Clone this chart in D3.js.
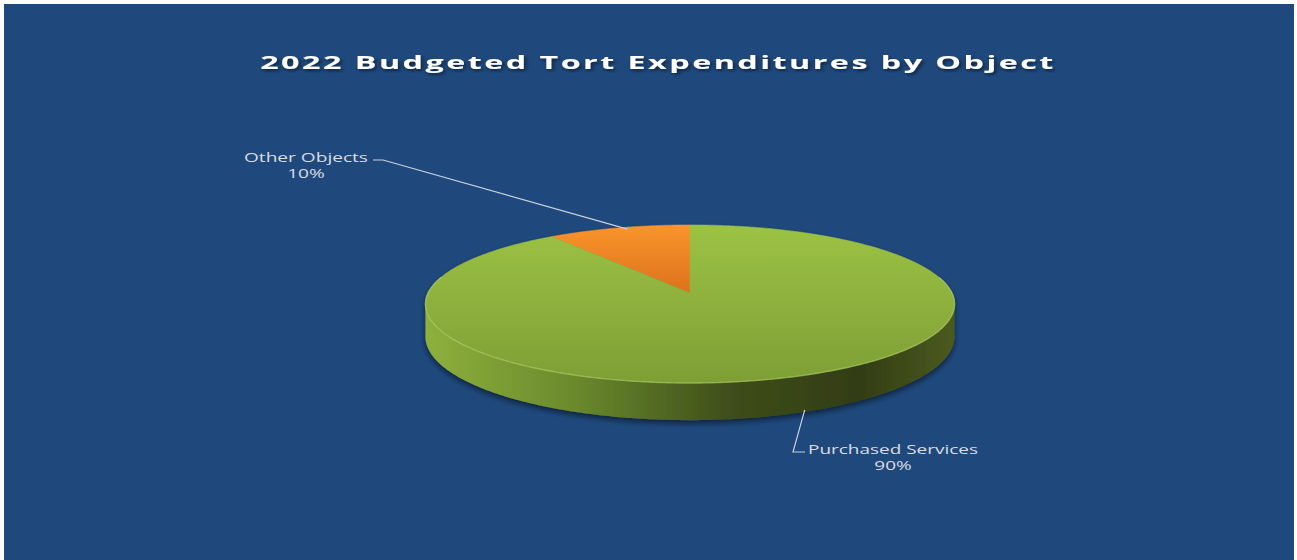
<!DOCTYPE html>
<html>
<head>
<meta charset="utf-8">
<script src="https://cdn.jsdelivr.net/npm/d3@7"></script>
<style>
  html, body { margin: 0; padding: 0; background: #ffffff; }
  svg { display: block; }
</style>
</head>
<body>
<svg id="chart" width="1297" height="560"></svg>
<script>
// Budget shares by object
const categories = ["Other Objects", "Purchased Services"];
const values = [10, 90];
const percentLabels = ["10%", "90%"];
const title = "2022 Budgeted Tort Expenditures by Object";

const W = 1297, H = 560;
const svg = d3.select("#chart");
const defs = svg.append("defs");

// Panel background
svg.append("rect").attr("x", 4).attr("y", 4).attr("width", 1290).attr("height", H - 4)
  .attr("fill", "#1f497d");

// Tilted-disc projection (viewer looks down at the pie with slight perspective)
const cx = 690, cy = 293, A = 262, B = 77.5, k = 0.139, depth = 32;
function project(theta, drop) {
  const u = Math.sin(theta), v = -Math.cos(theta);
  const w = 1 - k * v;
  return [cx + A * u / w, cy + B * v / w + (drop ? depth / w : 0)];
}
function rimPoints(a0, a1, drop) {
  const n = Math.max(2, Math.ceil(Math.abs(a1 - a0) / 0.01));
  return d3.range(n + 1).map(i => project(a0 + (a1 - a0) * i / n, drop));
}

const pie = d3.pie().sort(null).startAngle(-0.2 * Math.PI).endAngle(1.8 * Math.PI);
const arcs = pie(values);

// Gradients
const gTop = defs.append("linearGradient").attr("id", "gTop")
  .attr("gradientUnits", "userSpaceOnUse").attr("x1", 0).attr("y1", 225).attr("x2", 0).attr("y2", 385);
gTop.append("stop").attr("offset", "0%").attr("stop-color", "#9cc244");
gTop.append("stop").attr("offset", "100%").attr("stop-color", "#7d9e35");

const oTop = defs.append("linearGradient").attr("id", "oTop")
  .attr("gradientUnits", "userSpaceOnUse").attr("x1", 0).attr("y1", 225).attr("x2", 0).attr("y2", 295);
oTop.append("stop").attr("offset", "0%").attr("stop-color", "#f9952c");
oTop.append("stop").attr("offset", "100%").attr("stop-color", "#dd701c");

const side = defs.append("linearGradient").attr("id", "gSide")
  .attr("gradientUnits", "userSpaceOnUse").attr("x1", 425).attr("y1", 0).attr("x2", 955).attr("y2", 0);
side.append("stop").attr("offset", "0%").attr("stop-color", "#8eb03c");
side.append("stop").attr("offset", "28%").attr("stop-color", "#6a8a2c");
side.append("stop").attr("offset", "58%").attr("stop-color", "#3e4d1a");
side.append("stop").attr("offset", "82%").attr("stop-color", "#323d14");
side.append("stop").attr("offset", "100%").attr("stop-color", "#4b5a1e");

const shadow = defs.append("filter").attr("id", "pieShadow")
  .attr("x", "-10%").attr("y", "-10%").attr("width", "120%").attr("height", "130%");
shadow.append("feGaussianBlur").attr("in", "SourceAlpha").attr("stdDeviation", 3);
shadow.append("feOffset").attr("dx", 0).attr("dy", 3).attr("result", "ob");
shadow.append("feComponentTransfer").append("feFuncA").attr("type", "linear").attr("slope", 0.55);
const sm = shadow.append("feMerge");
sm.append("feMergeNode");
sm.append("feMergeNode").attr("in", "SourceGraphic");

const tshadow = defs.append("filter").attr("id", "titleShadow")
  .attr("x", "-5%").attr("y", "-30%").attr("width", "110%").attr("height", "160%");
tshadow.append("feDropShadow").attr("dx", 1).attr("dy", 2).attr("stdDeviation", 1.5)
  .attr("flood-color", "#000").attr("flood-opacity", 0.55);

const line = d3.line();
const pieG = svg.append("g").attr("filter", "url(#pieShadow)");

// Front wall of the disc (visible between the left and right silhouette points)
const sil = Math.acos(-k);
const wallTop = rimPoints(sil, 2 * Math.PI - sil, false);
const wallBottom = rimPoints(2 * Math.PI - sil, sil, true);
pieG.append("path").attr("d", line(wallTop.concat(wallBottom)) + "Z")
  .attr("fill", "url(#gSide)");

// Top faces of the slices
const topFill = ["url(#oTop)", "url(#gTop)"];
arcs.forEach((a, i) => {
  const pts = [[cx, cy]].concat(rimPoints(a.startAngle, a.endAngle, false));
  pieG.append("path").attr("d", line(pts) + "Z")
    .attr("fill", topFill[i]).attr("stroke", topFill[i]).attr("stroke-width", 0.5);
});

// Soft highlight along the front rim of the top face
svg.append("path").attr("d", line(rimPoints(sil - 0.35, 2 * Math.PI - sil + 0.35, false)))
  .attr("fill", "none").attr("stroke", "#c6e27a").attr("stroke-opacity", 0.45).attr("stroke-width", 1.4);

// Text is drawn wide: each block is stretched horizontally to its target width
function widen(sel, centerX, targetWidth, refNode) {
  const w = (refNode || sel.node()).getComputedTextLength();
  const sx = targetWidth / w;
  sel.attr("transform", `translate(${centerX},0) scale(${sx},1) translate(${-centerX},0)`);
}

// Title
const titleText = svg.append("text")
  .attr("x", 658).attr("y", 69).attr("text-anchor", "middle")
  .attr("font-family", "'Open Sans', 'DejaVu Sans', sans-serif")
  .attr("font-weight", "bold").attr("font-size", 18.5).attr("fill", "#ffffff")
  .attr("letter-spacing", 1.4)
  .attr("filter", "url(#titleShadow)")
  .text(title);
widen(titleText, 658, 796);

// Data labels with leader lines
const labelFont = "'Open Sans', 'DejaVu Sans', sans-serif";
const labelColor = "#d9dde3";
const labelPos = [[306, 162], [893, 454]];
const labelWidths = [124, 170];
arcs.forEach((a, i) => {
  const t = svg.append("text").attr("text-anchor", "middle")
    .attr("font-family", labelFont).attr("font-size", 13.2).attr("fill", labelColor);
  const first = t.append("tspan").attr("x", labelPos[i][0]).attr("y", labelPos[i][1]).text(categories[i]);
  t.append("tspan").attr("x", labelPos[i][0]).attr("y", labelPos[i][1] + 16).text(percentLabels[i]);
  widen(t, labelPos[i][0], labelWidths[i], first.node());
});

// Leader for the small slice: from label to a point on its rim
const midSmall = (arcs[0].startAngle + arcs[0].endAngle) / 2;
const pSmall = project(midSmall + 0.04, false);
svg.append("path").attr("d", line([[373, 160], [383, 160], [pSmall[0], pSmall[1] + 2]]))
  .attr("fill", "none").attr("stroke", "#c8d0dc").attr("stroke-width", 1.2);

// Leader for the large slice: from the front wall down to its label
const pBig = project(2.75, true);
svg.append("path").attr("d", line([[pBig[0], pBig[1] - 2], [793, 452], [805, 452]]))
  .attr("fill", "none").attr("stroke", "#c8d0dc").attr("stroke-width", 1.2);
</script>
</body>
</html>
